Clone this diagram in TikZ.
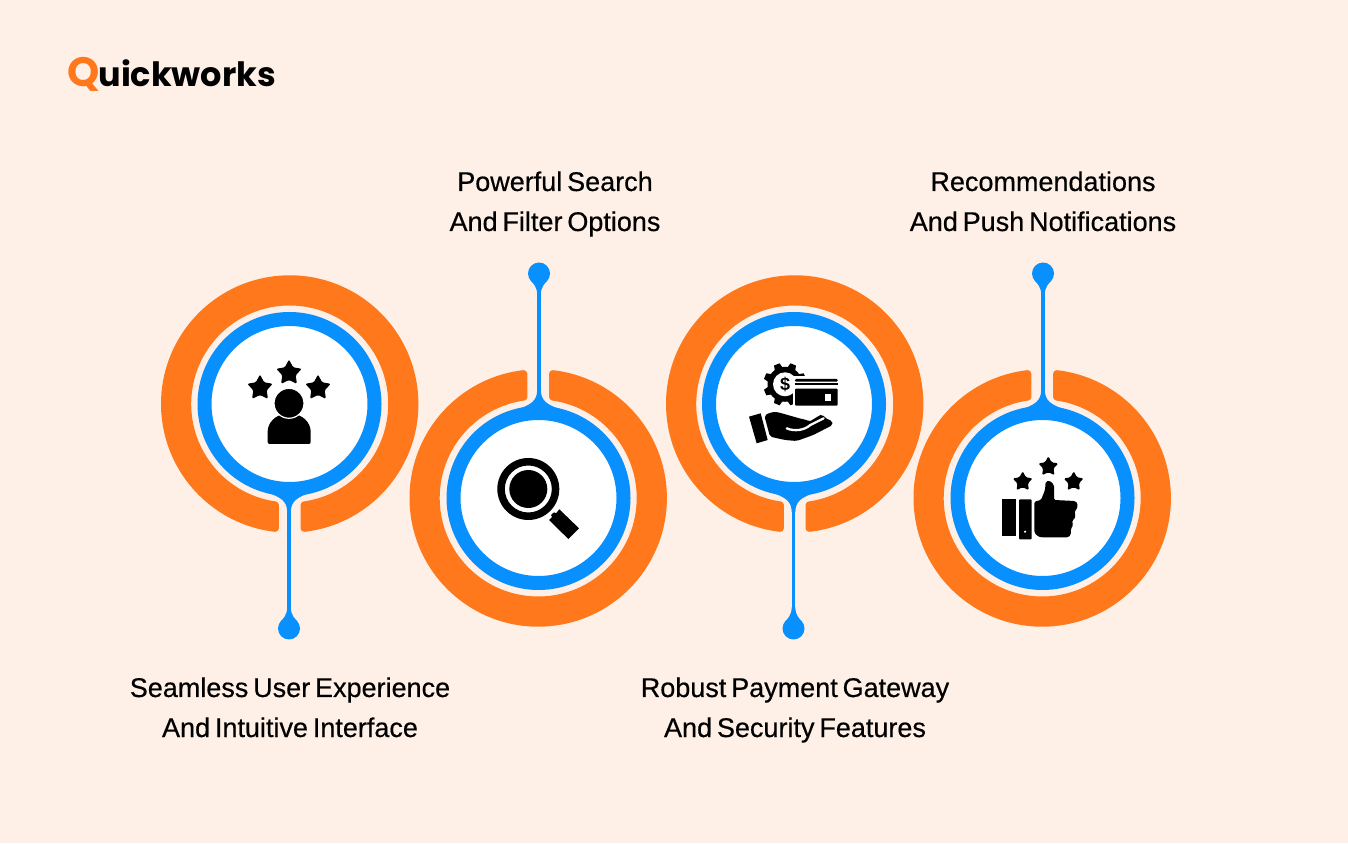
\documentclass[tikz,border=0pt]{standalone}
\usepackage{fontspec}
\setmainfont{Liberation Sans}[FakeBold=0.45,WordSpace=0.65]
\newfontfamily\logofont{Poppins}
\newfontfamily\iconfont{Liberation Sans}
\usetikzlibrary{calc}
\definecolor{bgc}{HTML}{FEF0E7}
\definecolor{orng}{HTML}{FF781B}
\definecolor{blu}{HTML}{0890FE}
\tikzset{
  ringarc/.style={fill=orng,draw=orng,line width=7,line join=round},
  core/.style={circle,draw=blu,line width=14,fill=white,minimum size=170,inner sep=0,outer sep=7},
  pinhead/.style={circle,fill=blu,minimum size=22,inner sep=0},
  stem/.style={draw=blu,line width=3.7},
  lbl/.style={align=center,font=\fontsize{27}{40}\selectfont,text=black,inner sep=0},
  ink/.style={fill=black,draw=none},
  blank/.style={fill=white,draw=none},
  zoomed/.style={x=0.33333pt,y=-0.33333pt},
}
% ring with gap centred on angle #3
\newcommand{\gapring}[3]{%
  \path[ringarc] ($(#1,#2)+(#3+6.6:125.2)$)
     arc[start angle=#3+6.6,end angle=#3+353.4,radius=125.2]
     -- ($(#1,#2)+(#3-8.1:102)$)
     arc[start angle=#3-8.1,end angle=#3-351.9,radius=102] -- cycle;
}
% flare of a stem into a core. x, y of core edge, sign of stem direction
\newcommand{\flare}[3]{%
  \fill[blu] (#1-24,#2-#3*4) .. controls (#1-7,#2+#3*1) and (#1-1.85,#2+#3*6) .. (#1-1.85,#2+#3*16)
     -- (#1+1.85,#2+#3*16) .. controls (#1+1.85,#2+#3*6) and (#1+7,#2+#3*1) .. (#1+24,#2-#3*4) -- cycle;
}
% teardrop of a pin. x, y of pin centre, sign towards stem
\newcommand{\teardrop}[3]{%
  \fill[blu] (#1-9,#2+#3*6) .. controls (#1-6,#2+#3*10) and (#1-1.85,#2+#3*13) .. (#1-1.85,#2+#3*21)
     -- (#1+1.85,#2+#3*21) .. controls (#1+1.85,#2+#3*13) and (#1+6,#2+#3*10) .. (#1+9,#2+#3*6) -- cycle;
}
\newcommand{\starshape}[3]{% x y r
  \fill[ink,rounded corners=1.4]
    ($(#1,#2)+(90:#3)$)
    -- ($(#1,#2)+(126:#3*0.52)$) -- ($(#1,#2)+(162:#3)$) -- ($(#1,#2)+(198:#3*0.52)$)
    -- ($(#1,#2)+(234:#3)$) -- ($(#1,#2)+(270:#3*0.52)$) -- ($(#1,#2)+(306:#3)$)
    -- ($(#1,#2)+(342:#3*0.52)$) -- ($(#1,#2)+(18:#3)$) -- ($(#1,#2)+(54:#3*0.52)$) -- cycle;
}
\begin{document}
\begin{tikzpicture}[x=1pt,y=1pt]
\useasboundingbox (0,0) rectangle (1348,843);
\fill[bgc] (0,0) rectangle (1348,843);

% logo
\node[anchor=base west,inner sep=0] (logo) at (67,756)
  {\logofont\bfseries\textcolor{orng}{\fontsize{41}{41}\selectfont Q}\kern-1pt\fontsize{33.5}{33}\selectfont uickworks};

% rings
\gapring{289.7}{439}{-90}
\gapring{538.2}{345}{90}
\gapring{794.7}{439}{-90}
\gapring{1042.2}{345}{90}

% pins
\node[pinhead] (p1) at (289,214.5) {};
\node[pinhead] (p2) at (539,569.5) {};
\node[pinhead] (p3) at (793.5,214.5) {};
\node[pinhead] (p4) at (1043,569.5) {};

% cores
\node[core] (c1) at (289.5,439) {};
\node[core] (c2) at (538.5,345) {};
\node[core] (c3) at (794,439) {};
\node[core] (c4) at (1042.5,345) {};

% stems
\draw[stem] (p1.center) -- (c1.south -| p1);
\draw[stem] (p2.center) -- (c2.north -| p2);
\draw[stem] (p3.center) -- (c3.south -| p3);
\draw[stem] (p4.center) -- (c4.north -| p4);

% flares
\flare{289}{347}{-1}
\flare{793.5}{347}{-1}
\flare{539}{437}{1}
\flare{1043}{437}{1}
\teardrop{289}{214.5}{1}
\teardrop{793.5}{214.5}{1}
\teardrop{539}{569.5}{-1}
\teardrop{1043}{569.5}{-1}

% labels
\node[lbl] (t1) at (290,134) {\strut Seamless User Experience\\\strut And Intuitive Interface};
\node[lbl] (t2) at (555,640) {\strut Powerful Search\\\strut And Filter Options};
\node[lbl] (t3) at (795,134) {\strut Robust Payment Gateway\\\strut And Security Features};
\node[lbl] (t4) at (1043,640) {\strut Recommendations\\\strut And Push Notifications};

% icon 1
\starshape{289}{470}{13.5}
\starshape{260}{455}{13.5}
\starshape{318}{455}{13.5}
\begin{scope}[shift={(220,503)},zoomed]
  \fill[ink,rounded corners=2] (143,312) -- (143,280) .. controls (143,250) and (165,222) .. (207,222)
     .. controls (250,222) and (272,250) .. (272,280) -- (272,312) -- cycle;
\end{scope}
\fill[ink,draw=white,line width=1.2] (289,439.7) circle (15);

% icon 2
\fill[ink,even odd rule] (528.3,354) circle (31) (528.3,354) circle (23.5);
\fill[ink] (528.3,354) circle (19);
\begin{scope}[shift={(470,403)},zoomed]
  \fill[ink] (237,240) -- (246,231) -- (243,225) -- (252,217) -- (258,220) -- (268,208) -- (327,265) -- (295,297) -- cycle;
\end{scope}

% icon 3
\begin{scope}[shift={(785,458.7)}]
  \fill[ink] (0,0) circle (17.5);
  \foreach \a in {0,45,...,315}{
    \fill[ink,rotate=\a+22.5] (-4.5,15) -- (-3,21.5) -- (3,21.5) -- (4.5,15) -- cycle;
  }
  \fill[white] (0,0) circle (12);
\end{scope}
\node[font=\iconfont\bfseries\fontsize{18}{18}\selectfont,inner sep=0] (dollar) at (785,458.7) {\$};
\fill[blank] (792.5,434.5) rectangle (841,466.5);
\fill[ink,rounded corners=1] (795,464) -- (837.7,464) -- (837.7,461.3) -- (795,461.3) -- cycle;
\fill[ink] (795,459.7) rectangle (837.7,457.7);
\fill[ink,rounded corners=1] (795,454.3) rectangle (837.7,437.3);
\fill[blank] (825,442.3) rectangle (831,448.7);
\begin{scope}[shift={(745,488)},zoomed]
  \fill[ink] (12,185) -- (47,175) -- (68,255) -- (35,265) -- cycle;
  \fill[ink,rounded corners=2] (58,182) .. controls (72,174) and (85,170) .. (100,172)
     -- (170,192) .. controls (182,194) and (188,197) .. (192,201)
     -- (222,182) -- (232,178) -- (240,188)
     -- (250,194) -- (262,198) -- (263,210)
     -- (205,240) -- (155,258) -- (120,255) -- (75,245) -- cycle;
  \draw[white,line width=2.3,line cap=round] (125,220) .. controls (148,230) and (178,226) .. (196,210) -- (236,190);
\end{scope}

% icon 4
\starshape{1048.3}{376.3}{10.5}
\starshape{1022.7}{361.3}{10.5}
\starshape{1073.7}{361.3}{10.5}
\fill[ink] (1002,307) rectangle (1015.7,343.7);
\fill[ink,rounded corners=1] (1019,303.7) rectangle (1031.7,343.7);
\fill[white] (1025,311.3) circle (1.2);
\begin{scope}[shift={(980,403)},zoomed]
  \fill[ink,rounded corners=1.5] (163,185) -- (183,180) -- (195,150) -- (197,125) -- (210,122) -- (222,135) -- (222,180)
    -- (285,183) -- (293,190) -- (291,208) -- (283,213) -- (287,225) -- (283,238) -- (275,243)
    -- (280,255) -- (273,265) -- (272,285) -- (265,292) -- (185,292) -- (175,290) -- (163,278) -- cycle;
\end{scope}
\end{tikzpicture}
\end{document}
